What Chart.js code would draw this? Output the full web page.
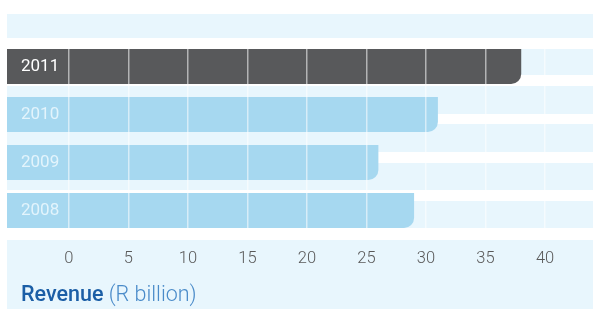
<!DOCTYPE html>
<html>
<head>
<meta charset="utf-8">
<script src="https://cdn.jsdelivr.net/npm/chart.js@4.4.1/dist/chart.umd.min.js"></script>
<style>
  html, body { margin: 0; padding: 0; background: #fff; }
  #wrap { width: 593px; height: 309px; }
</style>
</head>
<body>
<div id="wrap"><canvas id="revenueChart"></canvas></div>
<script>
// data
const years = ["2011", "2010", "2009", "2008"];
const revenue = [38, 31, 26, 29];
const tickValues = [0, 5, 10, 15, 20, 25, 30, 35, 40];

const axisMin = -5.2;   // bars start under the year label cell
const axisMax = 44.03;
const barColors = ["#58595b", "#a6d8f0", "#a6d8f0", "#a6d8f0"];
const labelColors = ["#ffffff", "#e3f4fc", "#e3f4fc", "#e3f4fc"];

// light blue stripes behind the chart + the axis box and its title
const backdrop = {
    id: "backdrop",
    beforeDraw(chart) {
        const ctx = chart.ctx;
        const w = chart.width;
        ctx.save();
        ctx.fillStyle = "#e8f6fd";
        [[14, 38], [49, 75], [86, 114], [124, 152], [163, 190], [201, 228], [240, 309]].forEach(b => {
            ctx.fillRect(7, b[0], w - 7, b[1] - b[0]);
        });
        ctx.restore();
    },
    afterDraw(chart) {
        const ctx = chart.ctx;
        ctx.save();
        ctx.textBaseline = "alphabetic";
        ctx.font = "500 21.5px Roboto";
        ctx.fillStyle = "#1b5ea6";
        ctx.fillText("Revenue", 21, 301);
        const w = ctx.measureText("Revenue ").width;
        ctx.font = "300 21.5px Roboto";
        ctx.fillStyle = "#4a8bc9";
        ctx.fillText("(R billion)", 21 + w, 301);
        ctx.restore();
    }
};

new Chart(document.getElementById("revenueChart"), {
    type: "bar",
    data: {
        labels: years,
        datasets: [{
            data: revenue.map(v => [axisMin, v]),
            backgroundColor: barColors,
            borderSkipped: false,
            borderRadius: { topLeft: 0, topRight: 0, bottomLeft: 0, bottomRight: 10 },
            barPercentage: 0.73,
            categoryPercentage: 1
        }]
    },
    options: {
        indexAxis: "y",
        responsive: true,
        maintainAspectRatio: false,
        animation: false,
        layout: { padding: { left: 7, right: 0, top: 42.5, bottom: 0 } },
        plugins: { legend: { display: false }, tooltip: { enabled: false } },
        scales: {
            x: {
                type: "linear",
                min: axisMin,
                max: axisMax,
                afterBuildTicks: s => { s.ticks = tickValues.map(v => ({ value: v })); },
                afterFit: s => { s.height = 74.5; },
                grid: { z: 1, color: "rgba(255,255,255,0.55)", lineWidth: 1.5, drawTicks: false },
                border: { display: false },
                ticks: {
                    z: 1,
                    padding: 14,
                    color: "#5a5a5a",
                    font: { family: "Roboto", size: 16.5, weight: "300" }
                }
            },
            y: {
                afterFit: s => { s.width = 0; },
                grid: { display: false, drawTicks: false },
                border: { display: false },
                ticks: {
                    z: 2,
                    mirror: true,
                    padding: 14,
                    color: ctx => labelColors[ctx.index],
                    font: { family: "Roboto", size: 17, weight: "400" }
                }
            }
        }
    },
    plugins: [backdrop]
});
</script>
</body>
</html>
